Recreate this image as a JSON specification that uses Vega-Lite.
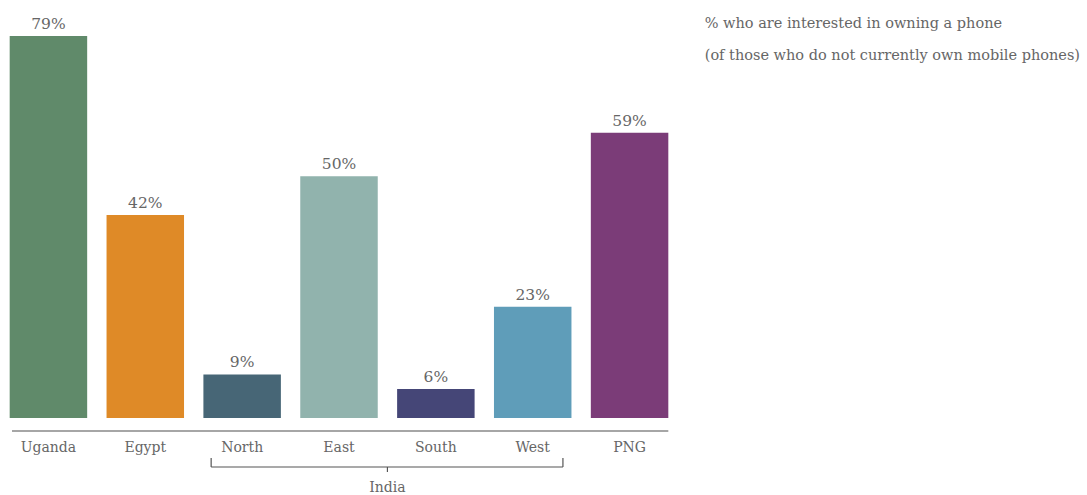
{
  "$schema": "https://vega.github.io/schema/vega-lite/v6.json",
  "autosize": {"type": "none"},
  "width": 678,
  "height": 382,
  "padding": {"left": 0, "top": 36, "right": 409, "bottom": 77},
  "background": "#ffffff",
  "config": {
    "view": {"stroke": null},
    "font": "DejaVu Serif",
    "text": {"font": "DejaVu Serif"}
  },
  "data": {
    "values": [
      {"category": "Uganda", "pct": 0.79},
      {"category": "Egypt", "pct": 0.42},
      {"category": "North", "pct": 0.09},
      {"category": "East", "pct": 0.50},
      {"category": "South", "pct": 0.06},
      {"category": "West", "pct": 0.23},
      {"category": "PNG", "pct": 0.59}
    ]
  },
  "encoding": {
    "x": {
      "field": "category",
      "type": "nominal",
      "sort": null,
      "scale": {"paddingInner": 0.2, "paddingOuter": 0.1},
      "axis": {
        "title": null,
        "domain": false,
        "ticks": false,
        "labelAngle": 0,
        "offset": 13,
        "labelPadding": 9,
        "labelFont": "DejaVu Serif",
        "labelFontSize": 14,
        "labelColor": "#666666"
      }
    }
  },
  "layer": [
    {
      "mark": {"type": "bar"},
      "encoding": {
        "y": {"field": "pct", "type": "quantitative", "scale": {"domain": [0, 0.79], "nice": false}, "axis": null},
        "color": {
          "field": "category",
          "type": "nominal",
          "sort": null,
          "scale": {
            "domain": ["Uganda", "Egypt", "North", "East", "South", "West", "PNG"],
            "range": ["#608a6a", "#df8a27", "#476676", "#91b3ad", "#454677", "#5f9db9", "#7b3c78"]
          },
          "legend": null
        }
      }
    },
    {
      "mark": {"type": "text", "baseline": "bottom", "dy": -4, "fontSize": 15.5, "color": "#666666"},
      "encoding": {
        "y": {"field": "pct", "type": "quantitative"},
        "text": {"field": "pct", "type": "quantitative", "format": ".0%"}
      }
    },
    {
      "data": {"values": [{}]},
      "mark": {"type": "rule", "color": "#888888", "strokeWidth": 1.5},
      "encoding": {
        "x": {"datum": "Uganda", "bandPosition": 0.03},
        "x2": {"datum": "PNG", "bandPosition": 1},
        "y": {"datum": -0.0269}
      }
    },
    {
      "data": {"values": [{}]},
      "mark": {"type": "rule", "color": "#555555", "strokeWidth": 1.2},
      "encoding": {
        "x": {"datum": "North", "bandPosition": 0.1},
        "x2": {"datum": "West", "bandPosition": 0.89},
        "y": {"datum": -0.1013}
      }
    },
    {
      "data": {"values": [{}]},
      "mark": {"type": "rule", "color": "#555555", "strokeWidth": 1.2},
      "encoding": {
        "x": {"datum": "North", "bandPosition": 0.1},
        "y": {"datum": -0.0827},
        "y2": {"datum": -0.1013}
      }
    },
    {
      "data": {"values": [{}]},
      "mark": {"type": "rule", "color": "#555555", "strokeWidth": 1.2},
      "encoding": {
        "x": {"datum": "West", "bandPosition": 0.89},
        "y": {"datum": -0.0827},
        "y2": {"datum": -0.1013}
      }
    },
    {
      "data": {"values": [{}]},
      "mark": {"type": "rule", "color": "#555555", "strokeWidth": 1.2},
      "encoding": {
        "x": {"datum": "East", "bandPosition": 1.125},
        "y": {"datum": -0.1013},
        "y2": {"datum": -0.1117}
      }
    },
    {
      "data": {"values": [{}]},
      "mark": {"type": "text", "fontSize": 14, "color": "#666666", "baseline": "middle", "align": "center"},
      "encoding": {
        "x": {"datum": "East", "bandPosition": 1.125},
        "y": {"datum": -0.1448},
        "text": {"value": "India"}
      }
    },
    {
      "data": {"values": [{}]},
      "mark": {"type": "text", "fontSize": 14.5, "color": "#666666", "baseline": "middle", "align": "left"},
      "encoding": {
        "x": {"datum": "PNG", "bandPosition": 1.47},
        "y": {"datum": 0.815},
        "text": {"value": "% who are interested in owning a phone"}
      }
    },
    {
      "data": {"values": [{}]},
      "mark": {"type": "text", "fontSize": 14.5, "color": "#666666", "baseline": "middle", "align": "left"},
      "encoding": {
        "x": {"datum": "PNG", "bandPosition": 1.47},
        "y": {"datum": 0.749},
        "text": {"value": "(of those who do not currently own mobile phones)"}
      }
    }
  ]
}
